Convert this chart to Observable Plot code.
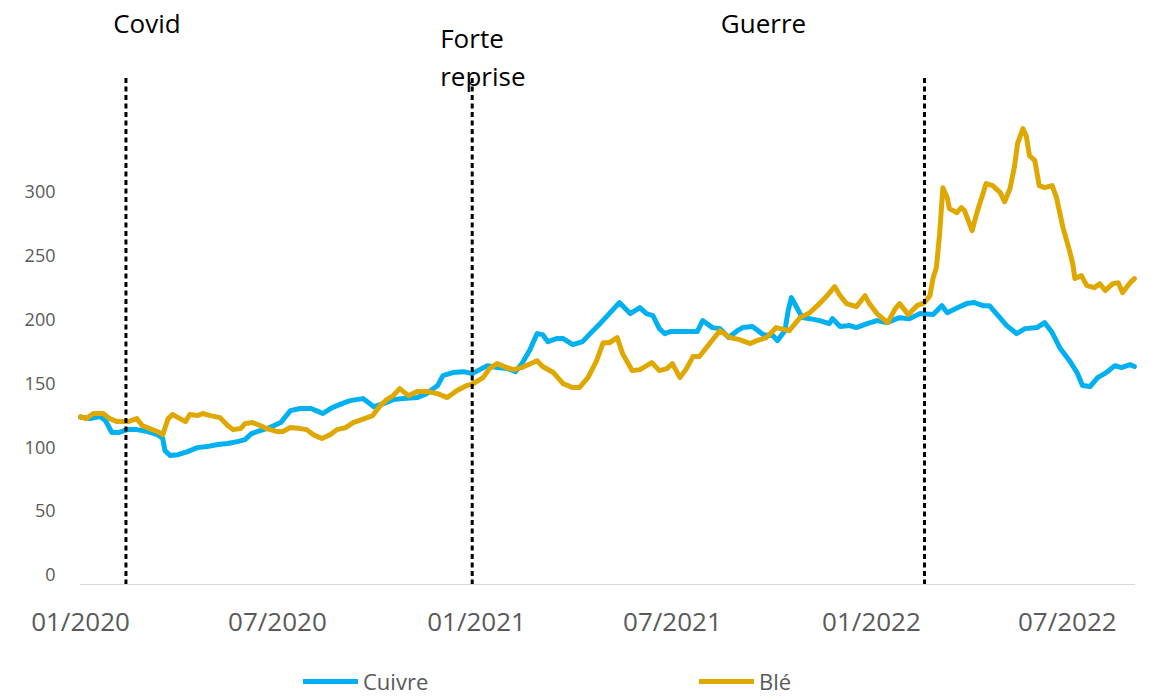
<!DOCTYPE html>
<html>
<head>
<meta charset="utf-8">
<script src="https://cdn.jsdelivr.net/npm/d3@7"></script>
<script src="https://cdn.jsdelivr.net/npm/@observablehq/plot@0.6"></script>
<style>
  html, body { margin: 0; padding: 0; background: #fff; overflow: hidden; }
  #chart { width: 1151px; height: 646px; }
  #legend { position: relative; width: 1151px; height: 52px; font-family: 'Open Sans', sans-serif; color: #595959; font-size: 22px; line-height: 24px; }
  .item { position: absolute; top: 23px; height: 24px; display: flex; align-items: center; }
  .sw { width: 55px; height: 5px; margin-right: 5px; }
</style>
</head>
<body>
<div id="chart"></div>
<div id="legend"></div>
<script>
// ---- Data ----
const seriesNames = ["Cuivre", "Blé"];
const seriesColors = ["#00B0F0", "#DFA800"];

const cuivreDates = ["2020-01-01","2020-01-10","2020-01-19","2020-01-24","2020-01-30","2020-02-05","2020-02-13","2020-02-22","2020-03-03","2020-03-12","2020-03-17","2020-03-19","2020-03-24","2020-03-31","2020-04-09","2020-04-18","2020-04-27","2020-05-07","2020-05-16","2020-05-25","2020-06-01","2020-06-07","2020-06-15","2020-06-24","2020-07-04","2020-07-13","2020-07-22","2020-08-01","2020-08-08","2020-08-12","2020-08-19","2020-08-25","2020-09-06","2020-09-18","2020-09-23","2020-09-28","2020-10-07","2020-10-16","2020-10-25","2020-11-07","2020-11-16","2020-11-26","2020-12-01","2020-12-10","2020-12-20","2020-12-28","2021-01-04","2021-01-11","2021-01-20","2021-01-30","2021-02-06","2021-02-12","2021-02-19","2021-02-26","2021-03-03","2021-03-08","2021-03-16","2021-03-22","2021-03-31","2021-04-09","2021-04-16","2021-04-25","2021-05-02","2021-05-13","2021-05-23","2021-06-01","2021-06-07","2021-06-13","2021-06-19","2021-06-24","2021-06-29","2021-07-11","2021-07-24","2021-07-29","2021-08-07","2021-08-14","2021-08-22","2021-08-30","2021-09-04","2021-09-13","2021-09-23","2021-10-02","2021-10-06","2021-10-13","2021-10-16","2021-10-19","2021-10-24","2021-10-29","2021-11-05","2021-11-14","2021-11-23","2021-11-26","2021-12-03","2021-12-12","2021-12-18","2021-12-28","2022-01-06","2022-01-15","2022-01-27","2022-02-05","2022-02-15","2022-02-27","2022-03-07","2022-03-12","2022-03-22","2022-03-30","2022-04-06","2022-04-14","2022-04-20","2022-04-28","2022-05-06","2022-05-15","2022-05-23","2022-06-03","2022-06-10","2022-06-17","2022-06-24","2022-07-03","2022-07-10","2022-07-15","2022-07-22","2022-07-29","2022-08-06","2022-08-14","2022-08-20","2022-08-28","2022-09-01"];
const cuivreValues = [124,123,124.5,121.4,112,112,114.3,114.3,112.8,110.4,107.3,97.9,94,94.7,97.1,100.2,101,102.6,103.4,104.9,106.5,111.2,113.5,115.9,119.8,129.2,130.8,130.8,128.4,126.9,130.8,133.1,137,138.6,135.5,132.3,134.7,137.8,138.6,139.4,142.5,148.8,156.6,159,159.7,158.2,161.3,164.4,162.9,162.1,159.7,166,176.2,189.5,188.7,183.2,185.6,185.6,180.9,183.2,189.5,197.3,203.6,213.8,205.2,209.9,205.2,203.6,193.4,189.5,191.1,191.1,191.1,199.7,194.2,193.4,186.4,191.8,194.2,195,188.7,187.9,184,191.8,207.5,217.7,209.9,202,201.2,199.7,197.3,201.2,195,195.8,194.2,197.3,199.7,198.1,202,201.2,205.2,204.4,211.4,205.9,209.9,213,213.8,211.4,211.4,203.6,195.8,189.5,193.4,194.2,198.1,190.3,178.5,168.3,159,148.8,148,155,159,164.4,162.9,165.2,163.7];

const bleDates = ["2020-01-01","2020-01-06","2020-01-13","2020-01-22","2020-01-28","2020-02-04","2020-02-14","2020-02-22","2020-02-27","2020-03-05","2020-03-12","2020-03-17","2020-03-22","2020-03-26","2020-04-02","2020-04-07","2020-04-11","2020-04-18","2020-04-23","2020-04-30","2020-05-09","2020-05-16","2020-05-21","2020-05-28","2020-06-01","2020-06-08","2020-06-15","2020-06-21","2020-07-01","2020-07-06","2020-07-13","2020-07-22","2020-07-28","2020-08-03","2020-08-11","2020-08-19","2020-08-25","2020-09-02","2020-09-09","2020-09-22","2020-09-27","2020-10-04","2020-10-10","2020-10-16","2020-10-22","2020-10-30","2020-11-07","2020-11-16","2020-11-26","2020-12-05","2020-12-14","2020-12-23","2020-12-29","2021-01-07","2021-01-13","2021-01-20","2021-01-29","2021-02-04","2021-02-12","2021-02-26","2021-03-03","2021-03-13","2021-03-22","2021-03-31","2021-04-06","2021-04-14","2021-04-22","2021-04-28","2021-05-04","2021-05-11","2021-05-16","2021-05-25","2021-06-01","2021-06-12","2021-06-19","2021-06-26","2021-07-01","2021-07-08","2021-07-14","2021-07-20","2021-07-26","2021-08-05","2021-08-14","2021-08-23","2021-09-01","2021-09-11","2021-09-17","2021-09-26","2021-10-05","2021-10-17","2021-10-27","2021-11-05","2021-11-14","2021-11-21","2021-11-28","2021-12-03","2021-12-09","2021-12-18","2021-12-26","2021-12-30","2022-01-06","2022-01-16","2022-01-23","2022-01-27","2022-02-04","2022-02-12","2022-02-19","2022-02-24","2022-02-27","2022-03-02","2022-03-05","2022-03-08","2022-03-12","2022-03-14","2022-03-21","2022-03-25","2022-03-28","2022-04-04","2022-04-09","2022-04-17","2022-04-23","2022-04-30","2022-05-04","2022-05-09","2022-05-13","2022-05-16","2022-05-21","2022-05-24","2022-05-27","2022-06-01","2022-06-05","2022-06-10","2022-06-17","2022-06-21","2022-06-27","2022-07-03","2022-07-06","2022-07-08","2022-07-14","2022-07-19","2022-07-26","2022-07-31","2022-08-05","2022-08-12","2022-08-17","2022-08-21","2022-08-28","2022-09-01"];
const bleValues = [124.5,122.9,126.9,126.9,122.9,120.6,120.6,122.9,117.5,115.1,112.8,110.4,122.9,126.1,122.9,120.6,126.1,125.3,126.9,125.3,123.7,117.5,114.3,115.1,119,119.8,117.5,115.1,112.8,112.8,115.9,115.1,114.3,110.4,107.3,110.4,114.3,115.9,119.8,123.7,125.3,133.1,137.8,140.9,146.4,140.9,144.1,144.1,142.5,139.4,144.9,148.8,150.3,155,162.1,166,162.9,161.3,162.9,168.3,163.7,159,150.3,147.2,147.2,155,168.3,182.4,182.4,186.4,173.8,160.5,161.3,166.8,160.5,162.1,166,155,162.1,171.5,171.5,182.4,191.8,186.4,184.8,181.7,184,186.4,194.2,191.8,202,205.9,213,219.2,226.3,219.2,213,210.6,219.2,213,205.2,198.1,209.1,213,204.4,211.4,213.8,219.2,233.3,241.2,267.8,303.8,296,287.4,284.2,288.1,285.8,270.1,285.8,307,305.4,299.9,292.8,303,319.5,338.3,350,344.5,328.9,325,305.4,303.8,305.4,296,272.5,254.5,244.3,232.6,234.9,227.1,225.5,228.6,223.2,228.6,229.4,221.6,229.4,232.6];

const eventDates = ["2020-02-12", "2020-12-28", "2022-02-19"];
const eventLabels = ["Covid", "Forte\nreprise", "Guerre"];

const yTicks = [0, 50, 100, 150, 200, 250, 300];
const xTickDates = ["2020-01-01", "2020-07-01", "2021-01-01", "2021-07-01", "2022-01-01", "2022-07-01"];
const xDomainDates = ["2020-01-01", "2022-09-02"];
const yDomain = [-7, 389.3];

// ---- Build ----
const parse = d3.utcParse("%Y-%m-%d");
const cuivre = cuivreDates.map((d, i) => ({date: parse(d), value: cuivreValues[i]}));
const ble = bleDates.map((d, i) => ({date: parse(d), value: bleValues[i]}));
const events = eventDates.map((d, i) => ({date: parse(d), label: eventLabels[i]}));

const font = "'Open Sans', sans-serif";
const chart = Plot.plot({
  width: 1151,
  height: 646,
  marginLeft: 80,
  marginRight: 16,
  marginTop: 78,
  marginBottom: 62,
  style: {fontFamily: font, background: "#fff", overflow: "visible"},
  x: {type: "utc", domain: xDomainDates.map(parse)},
  y: {domain: yDomain},
  marks: [
    Plot.ruleY([yDomain[0]], {stroke: "#D9D9D9", strokeWidth: 1.2}),
    Plot.axisY({ticks: yTicks, tickSize: 0, tickPadding: 25, fontSize: 18, fill: "#595959", label: null}),
    Plot.axisX({ticks: xTickDates.map(parse), tickFormat: d3.utcFormat("%m/%Y"), tickSize: 0, tickPadding: 28, fontSize: 26, fill: "#595959", label: null}),
    Plot.line(cuivre, {x: "date", y: "value", stroke: seriesColors[0], strokeWidth: 5, strokeLinejoin: "round", strokeLinecap: "round"}),
    Plot.line(ble, {x: "date", y: "value", stroke: seriesColors[1], strokeWidth: 5, strokeLinejoin: "round", strokeLinecap: "round"}),
    Plot.ruleX(events, {x: "date", stroke: "#000", strokeWidth: 3, strokeDasharray: "5,3.5"}),
    Plot.text([events[0]], {x: "date", text: "label", frameAnchor: "top", lineAnchor: "top", dy: -63.5, dx: 21, fontSize: 26, fill: "#000", textAnchor: "middle"}),
    Plot.text([events[1]], {x: "date", text: "label", frameAnchor: "top", lineAnchor: "top", lineHeight: 1.5, dy: -58.7, dx: -32, fontSize: 26, fill: "#000", textAnchor: "start"}),
    Plot.text([events[2]], {x: "date", text: "label", frameAnchor: "top", lineAnchor: "top", dy: -63.5, dx: -161, fontSize: 26, fill: "#000", textAnchor: "middle"})
  ]
});
document.getElementById("chart").appendChild(chart);

// ---- Legend ----
const legendLefts = [303, 699];
const legend = document.getElementById("legend");
seriesNames.forEach((name, i) => {
  const item = document.createElement("div");
  item.className = "item";
  item.style.left = legendLefts[i] + "px";
  const sw = document.createElement("span");
  sw.className = "sw";
  sw.style.background = seriesColors[i];
  const t = document.createElement("span");
  t.textContent = name;
  item.appendChild(sw);
  item.appendChild(t);
  legend.appendChild(item);
});
</script>
</body>
</html>
